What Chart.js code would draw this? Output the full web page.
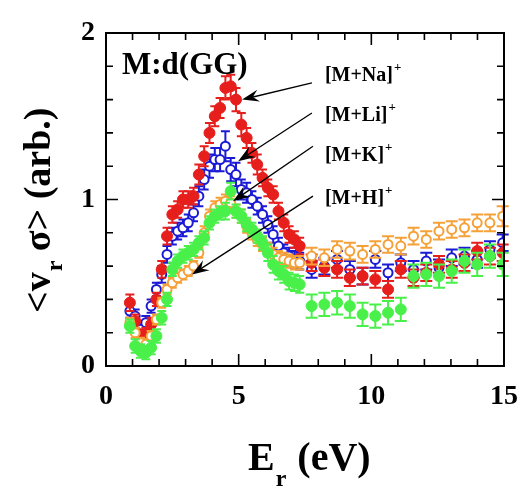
<!DOCTYPE html>
<html><head><meta charset="utf-8">
<script src="https://cdn.jsdelivr.net/npm/chart.js@4.4.0/dist/chart.umd.min.js"></script>
<style>html,body{margin:0;padding:0;background:#fff;} canvas{display:block;}</style>
</head><body>
<canvas id="c" width="526" height="490" style="width:526px;height:490px"></canvas>
<script>
// ---- data ----
const energy = [0.9,1.1,1.3,1.5,1.7,1.9,2.1,2.3,2.5,2.7,2.9,3.1,3.3,3.5,3.7,3.9,4.1,4.3,4.5,4.7,4.9,5.1,5.3,5.5,5.7,5.9,6.1,6.3,6.5,6.7,6.9,7.1,7.3,
  7.75,8.23,8.71,9.19,9.67,10.15,10.63,11.11,11.59,12.07,12.55,13.03,13.51,13.99,14.47,14.95];

const naVals = [0.38,0.27,0.18,0.19,0.25,0.40,0.58,0.78,0.91,0.94,1.00,1.00,1.02,1.15,1.26,1.40,1.50,1.55,1.67,1.68,1.60,1.45,1.37,1.28,1.21,1.13,1.07,1.03,0.93,0.86,0.79,0.76,0.72,
  0.62,0.59,0.58,0.53,0.54,0.52,0.46,0.58,0.53,0.56,0.61,0.58,0.62,0.69,0.66,0.68];
const naErr = [0.05,0.04,0.04,0.04,0.04,0.04,0.05,0.05,0.05,0.05,0.05,0.05,0.05,0.06,0.06,0.06,0.06,0.06,0.07,0.07,0.07,0.07,0.06,0.06,0.06,0.05,0.05,0.05,0.05,0.05,0.05,0.05,0.05,
  0.05,0.05,0.05,0.05,0.05,0.05,0.05,0.05,0.05,0.05,0.05,0.05,0.05,0.05,0.05,0.05];

const liVals = [0.33,0.30,0.22,0.26,0.36,0.46,0.55,0.67,0.78,0.81,0.83,0.86,0.92,1.02,1.12,1.20,1.24,1.24,1.32,1.18,1.15,1.06,1.04,1.00,0.96,0.91,0.85,0.79,0.72,0.68,0.66,0.64,0.63,
  0.58,0.60,0.64,0.58,0.54,0.64,0.56,0.62,0.58,0.63,0.59,0.65,0.66,0.64,0.70,0.74];
const liErr = [0.04,0.04,0.04,0.04,0.04,0.04,0.05,0.05,0.05,0.05,0.05,0.05,0.05,0.06,0.06,0.07,0.07,0.07,0.09,0.07,0.07,0.06,0.06,0.05,0.05,0.05,0.05,0.05,0.05,0.05,0.05,0.05,0.05,
  0.05,0.05,0.05,0.05,0.05,0.05,0.05,0.05,0.05,0.05,0.05,0.05,0.05,0.05,0.05,0.05];

const kVals = [0.24,0.12,0.09,0.08,0.11,0.18,0.29,0.40,0.58,0.63,0.66,0.68,0.70,0.74,0.77,0.86,0.90,0.92,0.93,1.05,0.93,0.90,0.85,0.82,0.78,0.74,0.68,0.61,0.57,0.55,0.51,0.50,0.49,
  0.36,0.37,0.38,0.36,0.31,0.30,0.32,0.34,0.54,0.55,0.54,0.57,0.63,0.61,0.66,0.61];
const kErr = [0.04,0.04,0.04,0.04,0.04,0.04,0.04,0.04,0.04,0.04,0.04,0.04,0.04,0.04,0.04,0.04,0.04,0.04,0.05,0.05,0.04,0.04,0.04,0.04,0.04,0.04,0.05,0.05,0.05,0.05,0.05,0.05,0.05,
  0.07,0.07,0.07,0.07,0.07,0.07,0.07,0.07,0.07,0.07,0.07,0.07,0.07,0.07,0.07,0.07];

const hVals = [0.26,0.20,0.14,0.13,0.18,0.28,0.38,0.46,0.50,0.53,0.55,0.57,0.60,0.68,0.80,0.90,0.95,0.97,0.99,0.98,0.93,0.90,0.84,0.80,0.76,0.73,0.70,0.67,0.65,0.64,0.63,0.62,0.62,
  0.66,0.65,0.70,0.69,0.67,0.70,0.73,0.72,0.78,0.76,0.81,0.82,0.83,0.86,0.86,0.90];
const hErr = [0.03,0.03,0.03,0.03,0.03,0.03,0.03,0.03,0.03,0.03,0.03,0.03,0.03,0.03,0.04,0.04,0.04,0.04,0.04,0.04,0.04,0.04,0.04,0.04,0.04,0.04,0.04,0.04,0.04,0.04,0.04,0.04,0.04,
  0.05,0.05,0.05,0.05,0.05,0.05,0.05,0.05,0.05,0.05,0.05,0.05,0.05,0.05,0.05,0.06];

const seriesNames = ['[M+Na]', '[M+Li]', '[M+K]', '[M+H]'];
const xTicks = [0, 5, 10, 15];
const yTicks = [0, 1, 2];

// ---- styling ----
const SERIF = "'Liberation Serif','Times New Roman',serif";
const RED = '#e61e1c', BLUE = '#1a1ad6', GREEN = '#4af04a', ORANGE = '#f6a038';

function pts(vals) { return vals.map((v, i) => ({ x: energy[i], y: v })); }

const errPlugin = {
  id: 'errbars',
  beforeDatasetDraw(chart, args) {
    const ds = chart.data.datasets[args.index];
    const xs = chart.scales.x, ys = chart.scales.y, c = chart.ctx;
    c.save();
    c.strokeStyle = ds.borderColor; c.lineWidth = 2;
    ds.data.forEach((p, i) => {
      const e = ds.errors[i];
      const px = xs.getPixelForValue(p.x);
      const yt = ys.getPixelForValue(p.y + e), yb = ys.getPixelForValue(p.y - e);
      const w = p.x > 7.5 ? 6 : 4.5;
      c.beginPath();
      c.moveTo(px, yt); c.lineTo(px, yb);
      c.moveTo(px - w, yt); c.lineTo(px + w, yt);
      c.moveTo(px - w, yb); c.lineTo(px + w, yb);
      c.stroke();
    });
    c.restore();
  }
};

const framePlugin = {
  id: 'frame',
  afterDatasetsDraw(chart) {
    const { ctx: c, chartArea: a } = chart;
    const xs = chart.scales.x, ys = chart.scales.y;
    c.save();
    c.strokeStyle = '#000'; c.lineWidth = 2;
    c.strokeRect(a.left, a.top, a.right - a.left, a.bottom - a.top);
    c.lineWidth = 1.6;
    c.beginPath();
    for (let k = 0; k <= 15; k++) {
      const px = xs.getPixelForValue(k), L = k % 5 === 0 ? 12 : 7;
      c.moveTo(px, a.bottom); c.lineTo(px, a.bottom - L);
      c.moveTo(px, a.top); c.lineTo(px, a.top + L);
    }
    for (let k = 0; k <= 10; k++) {
      const py = ys.getPixelForValue(k * 0.2), L = k % 5 === 0 ? 12 : 7;
      c.moveTo(a.left, py); c.lineTo(a.left + L, py);
      c.moveTo(a.right, py); c.lineTo(a.right - L, py);
    }
    c.stroke();
    c.restore();
  },
  afterDraw(chart) {
    const { ctx: c, chartArea: a } = chart;
    const xs = chart.scales.x, ys = chart.scales.y;
    const X = v => xs.getPixelForValue(v), Y = v => ys.getPixelForValue(v);
    c.save();
    c.fillStyle = '#000'; c.strokeStyle = '#000';
    c.textBaseline = 'alphabetic'; c.textAlign = 'left';
    // sample label
    c.font = 'bold 31px ' + SERIF;
    c.fillText('M:d(GG)', a.left + 16, a.top + 41);
    // series labels + arrows
    const ann = [
      { t: seriesNames[0], lx: 8.25, ly: 1.71, from: [7.76, 1.70], to: [5.13, 1.60] },
      { t: seriesNames[1], lx: 8.25, ly: 1.47, from: [7.76, 1.52], to: [4.98, 1.23] },
      { t: seriesNames[2], lx: 8.25, ly: 1.23, from: [7.80, 1.32], to: [4.79, 0.99] },
      { t: seriesNames[3], lx: 8.25, ly: 0.97, from: [7.80, 1.02], to: [3.24, 0.55] }
    ];
    ann.forEach(o => {
      c.font = 'bold 20px ' + SERIF;
      const x0 = X(o.lx), y0 = Y(o.ly);
      c.fillText(o.t, x0, y0);
      const w = c.measureText(o.t).width;
      c.font = 'bold 13px ' + SERIF;
      c.fillText('+', x0 + w + 1, y0 - 10);
      const sx = X(o.from[0]), sy = Y(o.from[1]), tx = X(o.to[0]), ty = Y(o.to[1]);
      const ang = Math.atan2(ty - sy, tx - sx);
      c.lineWidth = 1.3;
      c.beginPath(); c.moveTo(sx, sy); c.lineTo(tx - 8 * Math.cos(ang), ty - 8 * Math.sin(ang)); c.stroke();
      c.save(); c.translate(tx, ty); c.rotate(ang);
      c.beginPath(); c.moveTo(0, 0); c.lineTo(-17, -6); c.lineTo(-11, 0); c.lineTo(-17, 6); c.closePath(); c.fill();
      c.restore();
    });
    // x title
    c.font = 'bold 40px ' + SERIF;
    let tx = 248, by = 470;
    c.fillText('E', tx, by); tx += c.measureText('E').width;
    c.font = 'bold 24px ' + SERIF; c.fillText('r', tx + 1, by + 16); tx += c.measureText('r').width + 2;
    c.font = 'bold 40px ' + SERIF; c.fillText(' (eV)', tx, by);
    // y title (rotated)
    c.save();
    c.translate(50, 313); c.rotate(-Math.PI / 2);
    c.font = 'bold 38px ' + SERIF;
    let ux = 0;
    c.fillText('<v', ux, 0); ux += c.measureText('<v').width;
    c.font = 'bold 24px ' + SERIF; c.fillText('r', ux + 1, 12); ux += c.measureText('r').width + 1;
    c.font = 'bold 38px ' + SERIF; c.fillText(' \u03C3> (arb.)', ux, 0);
    c.restore();
    c.restore();
  }
};

const tickFont = { family: SERIF, size: 28, weight: 'bold' };

new Chart(document.getElementById('c'), {
  type: 'scatter',
  data: {
    datasets: [
      { label: seriesNames[2], data: pts(kVals), errors: kErr, borderColor: GREEN, backgroundColor: GREEN, pointRadius: 5.5, borderWidth: 1 },
      { label: seriesNames[3], data: pts(hVals), errors: hErr, borderColor: ORANGE, backgroundColor: '#fff', pointRadius: 4.5, borderWidth: 2 },
      { label: seriesNames[0], data: pts(naVals), errors: naErr, borderColor: RED, backgroundColor: RED, pointRadius: 5.5, borderWidth: 1 },
      { label: seriesNames[1], data: pts(liVals), errors: liErr, borderColor: BLUE, backgroundColor: '#fff', pointRadius: 4.5, borderWidth: 2 }
    ]
  },
  options: {
    responsive: false, animation: false, events: [],
    layout: { padding: { left: 76, top: 33, right: 22, bottom: 74 } },
    plugins: { legend: { display: false }, tooltip: { enabled: false } },
    scales: {
      x: {
        type: 'linear', min: 0, max: 15,
        afterBuildTicks: s => { s.ticks = xTicks.map(v => ({ value: v })); },
        afterFit: s => { s.height = 50; s.paddingRight = 0; s.paddingLeft = 0; },
        ticks: { font: tickFont, color: '#000', padding: 14, maxRotation: 0 },
        grid: { display: false, drawTicks: false }, border: { display: false }
      },
      y: {
        type: 'linear', min: 0, max: 2,
        afterBuildTicks: s => { s.ticks = yTicks.map(v => ({ value: v })); },
        afterFit: s => { s.width = 30; s.paddingTop = 0; s.paddingBottom = 0; },
        ticks: { font: tickFont, color: '#000', padding: 11 },
        grid: { display: false, drawTicks: false }, border: { display: false }
      }
    }
  },
  plugins: [errPlugin, framePlugin]
});
</script>
</body></html>
